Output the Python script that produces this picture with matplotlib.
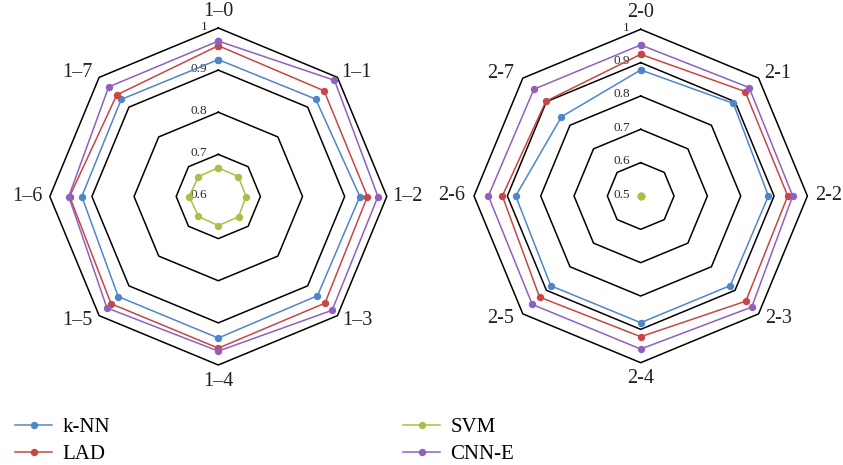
import numpy as np
import matplotlib.pyplot as plt

plt.rcParams['font.family'] = ['Liberation Serif', 'DejaVu Serif']

# spoke names
left_labels = ['1–0', '1–1', '1–2', '1–3', '1–4', '1–5', '1–6', '1–7']
right_labels = ['2-0', '2-1', '2-2', '2-3', '2-4', '2-5', '2-6', '2-7']

methods = ['k-NN', 'LAD', 'SVM', 'CNN-E']
colors = ['#4F86C8', '#C84646', '#A8C046', '#9160BE']

# left chart values
left_knn = [0.925, 0.927, 0.936, 0.933, 0.936, 0.936, 0.924, 0.926]
left_lad = [0.958, 0.955, 0.954, 0.958, 0.960, 0.960, 0.953, 0.941]
left_svm = [0.668, 0.667, 0.666, 0.668, 0.669, 0.667, 0.669, 0.667]
left_cnn = [0.969, 0.990, 0.979, 0.982, 0.967, 0.974, 0.955, 0.968]

# right chart values
right_knn = [0.878, 0.893, 0.883, 0.880, 0.880, 0.881, 0.875, 0.836]
right_lad = [0.925, 0.943, 0.941, 0.946, 0.922, 0.929, 0.915, 0.902]
right_svm = [0.5, 0.5, 0.5, 0.5, 0.5, 0.5, 0.5, 0.5]
right_cnn = [0.953, 0.960, 0.956, 0.971, 0.959, 0.960, 0.957, 0.953]

left_rings = [0.6, 0.7, 0.8, 0.9, 1.0]
left_ring_labels = ['0.6', '0.7', '0.8', '0.9', '1']
right_rings = [0.5, 0.6, 0.7, 0.8, 0.9, 1.0]
right_ring_labels = ['0.5', '0.6', '0.7', '0.8', '0.9', '1']

W, H = 843, 465
fig = plt.figure(figsize=(W / 100, H / 100), dpi=100)

theta = np.arange(8) * 2 * np.pi / 8
theta_c = np.append(theta, theta[0])

# pixel offsets of the spoke names from the outer vertex
label_off = [(0, 17), (19, 5), (21, 0), (20, -5), (0, -16), (-22, -5), (-22, 0), (-22, 5)]


def radar(rect, labels, series, rings, ring_labels):
    ax = fig.add_axes(rect, projection='polar')
    ax.set_theta_zero_location('N')
    ax.set_theta_direction(-1)
    ax.set_ylim(rings[0], rings[-1])
    ax.set_xticks([])
    ax.set_yticks([])
    ax.grid(False)
    ax.spines['polar'].set_visible(False)

    for r in rings[1:]:
        ax.plot(theta_c, [r] * 9, color='black', lw=1.1, clip_on=False, zorder=1)

    for r, t in zip(rings, ring_labels):
        ax.annotate(t, xy=(0, r), xytext=(-11, 1.5), textcoords='offset pixels',
                    ha='right', va='center', fontsize=9.5, color='#2a2a2a', zorder=2)

    lines = []
    for vals, name, c in zip(series, methods, colors):
        v = list(vals) + [vals[0]]
        ln, = ax.plot(theta_c, v, color=c, lw=1.1, marker='o', markersize=4.3,
                      label=name, clip_on=False, zorder=3)
        lines.append(ln)

    for t, lab, off in zip(theta, labels, label_off):
        ax.annotate(lab, xy=(t, rings[-1]), xytext=off, textcoords='offset pixels',
                    ha='center', va='center', fontsize=14.5, color='#222222',
                    annotation_clip=False)
    return lines


# left: centre (218.3, 196.5), radius 168.5 px
lr, lcx, lcy = 168.5, 218.3, 196.5
lines = radar([(lcx - lr) / W, (H - lcy - lr) / H, 2 * lr / W, 2 * lr / H],
              left_labels, [left_knn, left_lad, left_svm, left_cnn],
              left_rings, left_ring_labels)

# right: centre (640.7, 196), radius 166.7 px
rr, rcx, rcy = 166.7, 640.7, 196.0
radar([(rcx - rr) / W, (H - rcy - rr) / H, 2 * rr / W, 2 * rr / H],
      right_labels, [right_knn, right_lad, right_svm, right_cnn],
      right_rings, right_ring_labels)

leg_kw = dict(loc='center left', frameon=False, fontsize=15, handlelength=1.78,
              handletextpad=0.5, borderpad=0, borderaxespad=0, labelspacing=0.35)
fig.legend(handles=lines[:2], labels=methods[:2],
           bbox_to_anchor=(15 / W, 1 - 441 / H), **leg_kw)
fig.legend(handles=lines[2:], labels=methods[2:],
           bbox_to_anchor=(403 / W, 1 - 441 / H), **leg_kw)

fig.savefig('out.png', dpi=100, facecolor='white')
